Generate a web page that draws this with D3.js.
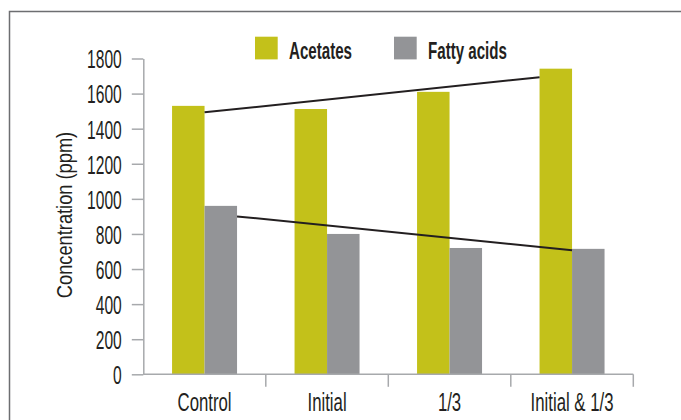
<!DOCTYPE html>
<html>
<head>
<meta charset="utf-8">
<script src="https://cdn.jsdelivr.net/npm/d3@7"></script>
<style>
  body { margin: 0; background: #fff; }
  svg { display: block; }
  text { font-family: "Liberation Sans", Arial, sans-serif; fill: #231f20; }
</style>
</head>
<body>
<svg width="681" height="420"></svg>
<script>
// data
var categories = ["Control", "Initial", "1/3", "Initial & 1/3"];
var seriesNames = ["Acetates", "Fatty acids"];
var acetates = [1530, 1512, 1610, 1742];
var fattyAcids = [960, 800, 720, 715];
var yTicks = [0, 200, 400, 600, 800, 1000, 1200, 1400, 1600, 1800];
// trend lines: [start value, end value]
var acetateTrend = [1493, 1693];
var fattyTrend = [900, 707];

var colors = { "Acetates": "#c3c11a", "Fatty acids": "#939497" };

var svg = d3.select("svg"),
    width = +svg.attr("width"),
    height = +svg.attr("height");

// frame
svg.append("path")
    .attr("d", "M9.5," + height + " V11.5 H" + width)
    .attr("fill", "none")
    .attr("stroke", "#6d6e71")
    .attr("stroke-width", 1.5);

var x0 = d3.scaleBand()
    .domain(categories)
    .range([143.3, 633.3])
    .padding(0);

var x1 = d3.scaleBand()
    .domain(seriesNames)
    .range([0, x0.bandwidth()])
    .paddingInner(0)
    .paddingOuter(0.885);

var y = d3.scaleLinear()
    .domain([0, 1800])
    .range([374.3, 58.5]);

// squeeze text horizontally to get the condensed look
function squeeze(sel, s) {
    sel.each(function() {
        var t = d3.select(this);
        var xx = +t.attr("x") || 0;
        t.attr("x", xx / s).attr("transform", "scale(" + s + ",1)");
    });
}

// y axis
var yAxis = svg.append("g")
    .attr("transform", "translate(143.3,0)")
    .call(d3.axisLeft(y).tickValues(yTicks).tickFormat(d3.format("d"))
        .tickSize(11.5).tickSizeOuter(0).tickPadding(10));
yAxis.select(".domain").attr("stroke", "#a7a9ac").attr("stroke-width", 1.5);
yAxis.selectAll(".tick line").attr("stroke", "#a7a9ac").attr("stroke-width", 1.5);
yAxis.selectAll(".tick text")
    .style("font-size", "26px")
    .attr("fill", "#231f20")
    .attr("dy", "0.36em")
    .call(squeeze, 0.6);

// bars
var rows = categories.map(function(c, i) {
    return { cat: c, values: [
        { key: "Acetates", value: acetates[i] },
        { key: "Fatty acids", value: fattyAcids[i] }
    ] };
});

svg.append("g")
    .selectAll("g")
    .data(rows)
    .enter()
    .append("g")
      .attr("transform", function(d) { return "translate(" + x0(d.cat) + ",0)"; })
    .selectAll("rect")
    .data(function(d) { return d.values; })
    .enter()
    .append("rect")
      .attr("x", function(d) { return x1(d.key); })
      .attr("y", function(d) { return y(d.value); })
      .attr("width", x1.bandwidth())
      .attr("height", function(d) { return y(0) - y(d.value); })
      .attr("fill", function(d) { return colors[d.key]; });

// x axis
var xAxis = svg.append("g");
xAxis.append("line")
    .attr("x1", x0.range()[0]).attr("x2", x0.range()[1])
    .attr("y1", y(0)).attr("y2", y(0))
    .attr("stroke", "#a7a9ac").attr("stroke-width", 1.5);
xAxis.selectAll(".sep")
    .data(categories)
    .enter()
    .append("line")
      .attr("x1", function(d) { return x0(d) + x0.bandwidth(); })
      .attr("x2", function(d) { return x0(d) + x0.bandwidth(); })
      .attr("y1", y(0)).attr("y2", y(0) + 12.5)
      .attr("stroke", "#a7a9ac").attr("stroke-width", 1.5);
xAxis.selectAll("text")
    .data(categories)
    .enter()
    .append("text")
      .attr("x", function(d) { return x0(d) + x0.bandwidth() / 2; })
      .attr("y", 411.5)
      .attr("text-anchor", "middle")
      .style("font-size", "26px")
      .text(function(d) { return d; })
      .call(squeeze, 0.645);

// trend lines
var first = categories[0], last = categories[categories.length - 1];
var trends = [
    { pts: [[x0(first) + x1("Acetates") + x1.bandwidth(), acetateTrend[0]],
            [x0(last) + x1("Acetates"), acetateTrend[1]]] },
    { pts: [[x0(first) + x1("Fatty acids") + x1.bandwidth(), fattyTrend[0]],
            [x0(last) + x1("Fatty acids"), fattyTrend[1]]] }
];
svg.append("g")
    .selectAll("line")
    .data(trends)
    .enter()
    .append("line")
      .attr("x1", function(d) { return d.pts[0][0]; })
      .attr("y1", function(d) { return y(d.pts[0][1]); })
      .attr("x2", function(d) { return d.pts[1][0]; })
      .attr("y2", function(d) { return y(d.pts[1][1]); })
      .attr("stroke", "#231f20")
      .attr("stroke-width", 2);

// y axis title
svg.append("text")
    .attr("transform", "translate(72,215) rotate(-90) scale(0.83,1)")
    .attr("text-anchor", "middle")
    .style("font-size", "22px")
    .text("Concentration (ppm)");

// legend
var legendX = [255, 394];
var legend = svg.append("g")
    .selectAll("g")
    .data(seriesNames)
    .enter()
    .append("g")
      .attr("transform", function(d, i) { return "translate(" + legendX[i] + ",36.7)"; });
legend.append("rect")
    .attr("width", 22.7)
    .attr("height", 22.7)
    .attr("fill", function(d) { return colors[d]; });
legend.append("text")
    .attr("x", 34)
    .attr("y", 22.6)
    .style("font-size", "24px")
    .style("font-weight", "bold")
    .text(function(d) { return d; })
    .call(squeeze, 0.63);
</script>
</body>
</html>
